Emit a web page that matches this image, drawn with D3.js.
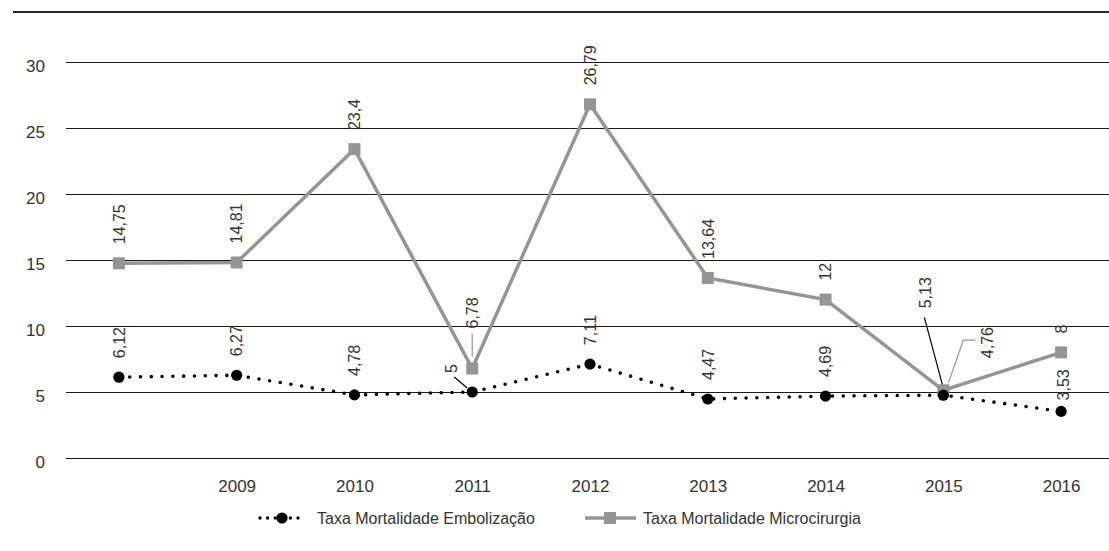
<!DOCTYPE html>
<html>
<head>
<meta charset="utf-8">
<script src="https://cdn.jsdelivr.net/npm/d3@7"></script>
<style>
  html, body { margin: 0; padding: 0; background: #fff; }
  svg { display: block; font-family: "Liberation Sans", Arial, sans-serif; }
</style>
</head>
<body>
<svg id="chart" width="1109" height="551"></svg>
<script>
// ---- data ----
const categories = ["2008", "2009", "2010", "2011", "2012", "2013", "2014", "2015", "2016"];
const tickLabels = ["", "2009", "2010", "2011", "2012", "2013", "2014", "2015", "2016"];
const embolizacao = [6.12, 6.27, 4.78, 5, 7.11, 4.47, 4.69, 4.76, 3.53];
const microcirurgia = [14.75, 14.81, 23.4, 6.78, 26.79, 13.64, 12, 5.13, 8];
const yTicks = [0, 5, 10, 15, 20, 25, 30];
const seriesNames = ["Taxa Mortalidade Embolização", "Taxa Mortalidade Microcirurgia"];

// ---- layout / style ----
const W = 1109, H = 551;
const GRAY = "#959595", INK = "#333";
const svg = d3.select("#chart");

const x = d3.scalePoint().domain(categories).range([60, 1120]).padding(0.5);
const y = d3.scaleLinear().domain([0, 30]).range([458, 62]);

// top rule
svg.append("line").attr("x1", 13).attr("x2", W).attr("y1", 12).attr("y2", 12)
  .attr("stroke", "#262626").attr("stroke-width", 2);

// y axis with gridlines
const gx0 = 66;
const yAxis = svg.append("g").attr("transform", `translate(${gx0},0)`)
  .call(d3.axisLeft(y).tickValues(yTicks).tickSize(-(W - gx0)).tickPadding(21).tickFormat(d3.format("d")));
yAxis.select(".domain").remove();
yAxis.selectAll(".tick line").attr("stroke", "#1a1a1a").attr("stroke-width", 1).attr("shape-rendering", "crispEdges");
yAxis.selectAll(".tick text").attr("font-size", 17).attr("fill", INK).attr("dy", "0.55em")
  .attr("font-family", "Liberation Sans, Arial, sans-serif");

// x axis labels
const xAxis = svg.append("g").attr("transform", `translate(0,458)`)
  .call(d3.axisBottom(x).tickSize(0).tickPadding(22).tickFormat((d, i) => tickLabels[i]));
xAxis.select(".domain").remove();
xAxis.selectAll(".tick text").attr("font-size", 17).attr("fill", INK)
  .attr("font-family", "Liberation Sans, Arial, sans-serif");

// lines
const line = d3.line().x((d, i) => x(categories[i])).y(d => y(d));

svg.append("path").datum(microcirurgia).attr("d", line)
  .attr("fill", "none").attr("stroke", GRAY).attr("stroke-width", 3.5).attr("stroke-linejoin", "miter");
svg.selectAll("rect.sq").data(microcirurgia).enter().append("rect").attr("class", "sq")
  .attr("x", (d, i) => x(categories[i]) - 6).attr("y", d => y(d) - 6)
  .attr("width", 12).attr("height", 12).attr("fill", GRAY);

svg.append("path").datum(embolizacao).attr("d", line)
  .attr("fill", "none").attr("stroke", "#000").attr("stroke-width", 3.6)
  .attr("stroke-linecap", "round").attr("stroke-dasharray", "0 10.8");
svg.selectAll("circle.pt").data(embolizacao).enter().append("circle").attr("class", "pt")
  .attr("cx", (d, i) => x(categories[i])).attr("cy", d => y(d)).attr("r", 5.6).attr("fill", "#000");

// data labels (rotated)
const fmt = v => String(v).replace(".", ",");
// label placement overrides: dx, lift (distance above point), leader polyline relative to point
const microLabelOpts = {
  3: { dx: 0, lift: 40, leader: [[0, -12], [0, -35]], leaderColor: GRAY },
  7: { dx: -18, lift: 82, leader: [[-1, -6], [-19, -73]], leaderColor: "#000" }
};
const embolLabelOpts = {
  3: { dx: -21, lift: 19, leader: [[-5, -4], [-18, -15]], leaderColor: "#000" },
  7: { dx: 44, lift: 37, leader: [[5, -12], [20, -55], [32, -55]], leaderColor: GRAY },
  8: { dx: 2, lift: 11 }
};

function drawLabels(values, opts) {
  values.forEach((v, i) => {
    const px = x(categories[i]), py = y(v);
    const o = opts[i] || { dx: 0, lift: 19 };
    if (o.leader) {
      svg.append("path")
        .attr("d", d3.line()(o.leader.map(p => [px + p[0], py + p[1]])))
        .attr("fill", "none").attr("stroke", o.leaderColor).attr("stroke-width", 1.2);
    }
    svg.append("text")
      .attr("transform", `translate(${px + o.dx},${py - o.lift}) rotate(-90)`)
      .attr("dy", "0.36em")
      .attr("font-size", 16).attr("fill", INK)
      .text(fmt(v));
  });
}
drawLabels(microcirurgia, microLabelOpts);
drawLabels(embolizacao, embolLabelOpts);

// legend
const ly = 518;
const lg = svg.append("g");
lg.append("line").attr("x1", 260).attr("x2", 300).attr("y1", ly).attr("y2", ly)
  .attr("stroke", "#000").attr("stroke-width", 3.4).attr("stroke-linecap", "round").attr("stroke-dasharray", "0 7.6");
lg.append("circle").attr("cx", 282).attr("cy", ly).attr("r", 5.6).attr("fill", "#000");
lg.append("text").attr("x", 317).attr("y", ly + 6).attr("font-size", 16).attr("fill", INK).text(seriesNames[0]);

lg.append("line").attr("x1", 585).attr("x2", 636).attr("y1", ly).attr("y2", ly)
  .attr("stroke", GRAY).attr("stroke-width", 3.5);
lg.append("rect").attr("x", 604).attr("y", ly - 6).attr("width", 12).attr("height", 12).attr("fill", GRAY);
lg.append("text").attr("x", 643).attr("y", ly + 6).attr("font-size", 16).attr("fill", INK).text(seriesNames[1]);
</script>
</body>
</html>
